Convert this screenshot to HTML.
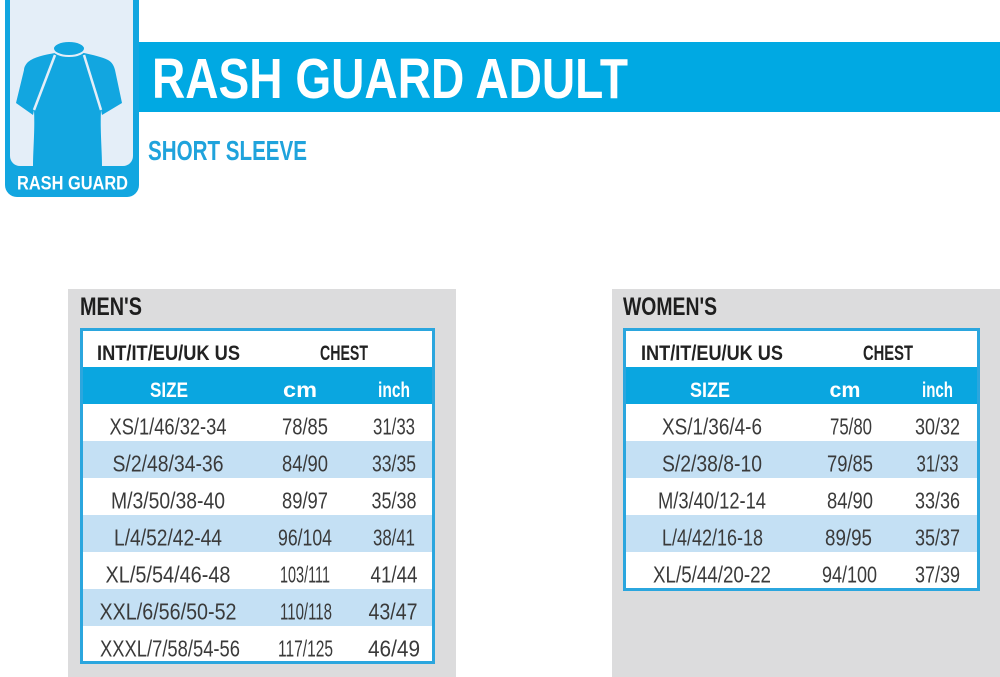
<!DOCTYPE html>
<html>
<head>
<meta charset="utf-8">
<style>
  html,body{margin:0;padding:0;background:#fff;}
  body{width:1000px;height:677px;overflow:hidden;}
  svg{display:block;}
  .t{font-family:"Liberation Sans",sans-serif;}
  .d{font-family:"Liberation Sans",sans-serif;font-size:23px;fill:#3a3a3a;}
  .h{font-family:"Liberation Sans",sans-serif;font-size:21px;font-weight:bold;fill:#222;}
  .s{font-family:"Liberation Sans",sans-serif;font-size:21px;font-weight:bold;fill:#fff;}
</style>
</head>
<body>
<svg width="1000" height="677" viewBox="0 0 1000 677" xmlns="http://www.w3.org/2000/svg">
  <rect x="0" y="0" width="1000" height="677" fill="#ffffff"/>

  <!-- Logo -->
  <rect x="5" y="-20" width="134" height="217" rx="12" fill="#12a6e0"/>
  <rect x="10" y="-12" width="123" height="178" rx="10" fill="#e4eef8"/>
  <path d="M55 53 C44 55 34 57 28 62 C25 65 24 68 24 70 L16 103 L33 115 L34 110 C35 130 33 150 33 166 L102 166 C102 150 100 130 101 110 L102 115 L122 103 L115 70 C114 66 112 62 108 60 C102 57 93 55 84 53 Z" fill="#12a6e0"/>
  <line x1="55" y1="55" x2="34" y2="110" stroke="#e4eef8" stroke-width="2.5"/>
  <line x1="84" y1="55" x2="101" y2="110" stroke="#e4eef8" stroke-width="2.5"/>
  <ellipse cx="69" cy="48.5" rx="16" ry="7.5" fill="#12a6e0" stroke="#e4eef8" stroke-width="2"/>
  <text class="t" x="17" y="189.5" font-size="19" font-weight="bold" fill="#ffffff" textLength="111" lengthAdjust="spacingAndGlyphs">RASH GUARD</text>

  <!-- Banner -->
  <rect x="139" y="42" width="861" height="70" fill="#00a9e3"/>
  <text class="t" x="152" y="98" font-size="57" font-weight="bold" fill="#ffffff" textLength="476" lengthAdjust="spacingAndGlyphs">RASH GUARD ADULT</text>
  <text class="t" x="148" y="160" font-size="28" font-weight="bold" fill="#1fa3dc" textLength="159" lengthAdjust="spacingAndGlyphs">SHORT SLEEVE</text>

  <!-- MEN'S panel -->
  <rect x="68" y="289" width="388" height="388" fill="#dcdcdd"/>
  <text class="t" x="80" y="315" font-size="25" font-weight="bold" fill="#1e1e1e" textLength="62" lengthAdjust="spacingAndGlyphs">MEN'S</text>
  <rect x="80" y="328" width="355" height="336" fill="#ffffff"/>
  <rect x="80" y="367" width="355" height="37" fill="#0aa6e0"/>
  <rect x="80" y="441" width="355" height="37" fill="#c4e0f4"/>
  <rect x="80" y="515" width="355" height="37" fill="#c4e0f4"/>
  <rect x="80" y="589" width="355" height="37" fill="#c4e0f4"/>
  <rect x="81.5" y="329.5" width="352" height="333" fill="none" stroke="#2ba6de" stroke-width="3"/>
  <text class="h" x="97" y="360" textLength="143" lengthAdjust="spacingAndGlyphs">INT/IT/EU/UK US</text>
  <text class="h" x="344" y="360" text-anchor="middle" textLength="48" lengthAdjust="spacingAndGlyphs">CHEST</text>
  <text class="s" x="169" y="397" text-anchor="middle" textLength="38" lengthAdjust="spacingAndGlyphs">SIZE</text>
  <text class="s" x="300" y="397" text-anchor="middle" textLength="34" lengthAdjust="spacingAndGlyphs">cm</text>
  <text class="s" x="394" y="397" text-anchor="middle" textLength="32" lengthAdjust="spacingAndGlyphs">inch</text>

  <text class="d" x="168" y="434.5" text-anchor="middle" textLength="117" lengthAdjust="spacingAndGlyphs">XS/1/46/32-34</text>
  <text class="d" x="305" y="434.5" text-anchor="middle" textLength="46" lengthAdjust="spacingAndGlyphs">78/85</text>
  <text class="d" x="394" y="434.5" text-anchor="middle" textLength="42" lengthAdjust="spacingAndGlyphs">31/33</text>

  <text class="d" x="168" y="471.5" text-anchor="middle" textLength="111" lengthAdjust="spacingAndGlyphs">S/2/48/34-36</text>
  <text class="d" x="305" y="471.5" text-anchor="middle" textLength="46" lengthAdjust="spacingAndGlyphs">84/90</text>
  <text class="d" x="394" y="471.5" text-anchor="middle" textLength="44" lengthAdjust="spacingAndGlyphs">33/35</text>

  <text class="d" x="168" y="508.5" text-anchor="middle" textLength="114" lengthAdjust="spacingAndGlyphs">M/3/50/38-40</text>
  <text class="d" x="305" y="508.5" text-anchor="middle" textLength="46" lengthAdjust="spacingAndGlyphs">89/97</text>
  <text class="d" x="394" y="508.5" text-anchor="middle" textLength="45" lengthAdjust="spacingAndGlyphs">35/38</text>

  <text class="d" x="168" y="545.5" text-anchor="middle" textLength="108" lengthAdjust="spacingAndGlyphs">L/4/52/42-44</text>
  <text class="d" x="305" y="545.5" text-anchor="middle" textLength="54" lengthAdjust="spacingAndGlyphs">96/104</text>
  <text class="d" x="394" y="545.5" text-anchor="middle" textLength="42" lengthAdjust="spacingAndGlyphs">38/41</text>

  <text class="d" x="168" y="582.5" text-anchor="middle" textLength="125" lengthAdjust="spacingAndGlyphs">XL/5/54/46-48</text>
  <text class="d" x="305" y="582.5" text-anchor="middle" textLength="50" lengthAdjust="spacingAndGlyphs">103/111</text>
  <text class="d" x="394" y="582.5" text-anchor="middle" textLength="47" lengthAdjust="spacingAndGlyphs">41/44</text>

  <text class="d" x="168" y="619.5" text-anchor="middle" textLength="137" lengthAdjust="spacingAndGlyphs">XXL/6/56/50-52</text>
  <text class="d" x="306" y="619.5" text-anchor="middle" textLength="52" lengthAdjust="spacingAndGlyphs">110/118</text>
  <text class="d" x="393" y="619.5" text-anchor="middle" textLength="49" lengthAdjust="spacingAndGlyphs">43/47</text>

  <text class="d" x="170" y="656.5" text-anchor="middle" textLength="140" lengthAdjust="spacingAndGlyphs">XXXL/7/58/54-56</text>
  <text class="d" x="305.5" y="656.5" text-anchor="middle" textLength="55" lengthAdjust="spacingAndGlyphs">117/125</text>
  <text class="d" x="394" y="656.5" text-anchor="middle" textLength="52" lengthAdjust="spacingAndGlyphs">46/49</text>

  <!-- WOMEN'S panel -->
  <rect x="612" y="289" width="388" height="388" fill="#dcdcdd"/>
  <text class="t" x="623" y="315" font-size="25" font-weight="bold" fill="#1e1e1e" textLength="94" lengthAdjust="spacingAndGlyphs">WOMEN'S</text>
  <rect x="623" y="328" width="357" height="263" fill="#ffffff"/>
  <rect x="623" y="367" width="357" height="37" fill="#0aa6e0"/>
  <rect x="623" y="441" width="357" height="37" fill="#c4e0f4"/>
  <rect x="623" y="515" width="357" height="37" fill="#c4e0f4"/>
  <rect x="624.5" y="329.5" width="354" height="260" fill="none" stroke="#2ba6de" stroke-width="3"/>
  <text class="h" x="641" y="360" textLength="142" lengthAdjust="spacingAndGlyphs">INT/IT/EU/UK US</text>
  <text class="h" x="888" y="360" text-anchor="middle" textLength="50" lengthAdjust="spacingAndGlyphs">CHEST</text>
  <text class="s" x="710" y="397" text-anchor="middle" textLength="40" lengthAdjust="spacingAndGlyphs">SIZE</text>
  <text class="s" x="845" y="397" text-anchor="middle" textLength="31" lengthAdjust="spacingAndGlyphs">cm</text>
  <text class="s" x="937.5" y="397" text-anchor="middle" textLength="31" lengthAdjust="spacingAndGlyphs">inch</text>

  <text class="d" x="712" y="434.5" text-anchor="middle" textLength="100" lengthAdjust="spacingAndGlyphs">XS/1/36/4-6</text>
  <text class="d" x="851" y="434.5" text-anchor="middle" textLength="42" lengthAdjust="spacingAndGlyphs">75/80</text>
  <text class="d" x="937.5" y="434.5" text-anchor="middle" textLength="45" lengthAdjust="spacingAndGlyphs">30/32</text>

  <text class="d" x="712" y="471.5" text-anchor="middle" textLength="100" lengthAdjust="spacingAndGlyphs">S/2/38/8-10</text>
  <text class="d" x="850" y="471.5" text-anchor="middle" textLength="46" lengthAdjust="spacingAndGlyphs">79/85</text>
  <text class="d" x="937.5" y="471.5" text-anchor="middle" textLength="42" lengthAdjust="spacingAndGlyphs">31/33</text>

  <text class="d" x="712" y="508.5" text-anchor="middle" textLength="108" lengthAdjust="spacingAndGlyphs">M/3/40/12-14</text>
  <text class="d" x="850" y="508.5" text-anchor="middle" textLength="46" lengthAdjust="spacingAndGlyphs">84/90</text>
  <text class="d" x="937.5" y="508.5" text-anchor="middle" textLength="45" lengthAdjust="spacingAndGlyphs">33/36</text>

  <text class="d" x="712.5" y="545.5" text-anchor="middle" textLength="101" lengthAdjust="spacingAndGlyphs">L/4/42/16-18</text>
  <text class="d" x="848.5" y="545.5" text-anchor="middle" textLength="47" lengthAdjust="spacingAndGlyphs">89/95</text>
  <text class="d" x="937.5" y="545.5" text-anchor="middle" textLength="45" lengthAdjust="spacingAndGlyphs">35/37</text>

  <text class="d" x="712" y="582.5" text-anchor="middle" textLength="118" lengthAdjust="spacingAndGlyphs">XL/5/44/20-22</text>
  <text class="d" x="849.5" y="582.5" text-anchor="middle" textLength="55" lengthAdjust="spacingAndGlyphs">94/100</text>
  <text class="d" x="937.5" y="582.5" text-anchor="middle" textLength="45" lengthAdjust="spacingAndGlyphs">37/39</text>
</svg>
</body>
</html>
